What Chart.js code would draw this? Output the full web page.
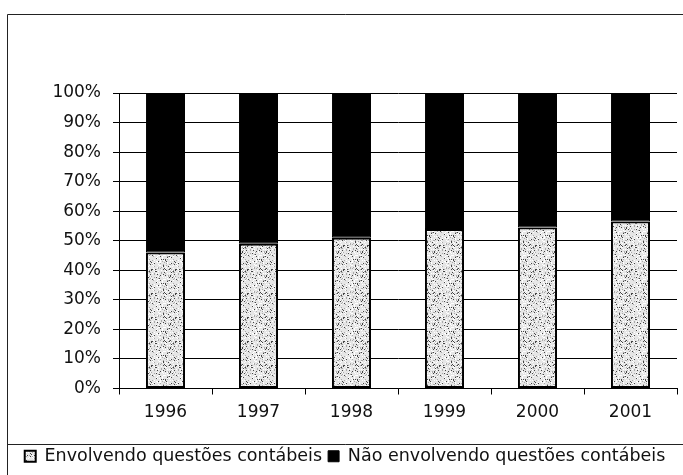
<!DOCTYPE html>
<html>
<head>
<meta charset="utf-8">
<script src="https://cdn.jsdelivr.net/npm/chart.js@4.4.0/dist/chart.umd.min.js"></script>
<style>
  html, body { margin: 0; padding: 0; background: #fff; }
  #wrap { width: 683px; height: 475px; }
</style>
</head>
<body>
<div id="wrap"><canvas id="barChart" width="683" height="475"></canvas></div>
<script>
// data
var anos = ["1996", "1997", "1998", "1999", "2000", "2001"];
var envolvendo = [46, 49, 51, 54, 54.5, 56.5];
var naoEnvolvendo = [54, 51, 49, 46, 45.5, 43.5];
var yTicks = [0, 10, 20, 30, 40, 50, 60, 70, 80, 90, 100];

// stippled fill like the scanned bars
function stipple() {
  var c = document.createElement('canvas');
  c.width = 24; c.height = 24;
  var g = c.getContext('2d');
  g.fillStyle = '#e6e6e6';
  g.fillRect(0, 0, 24, 24);
  var s = 11;
  for (var i = 0; i < 220; i++) {
    s = (s * 1103 + 12345) % 65521;
    var x = s % 24;
    s = (s * 1103 + 12345) % 65521;
    var y = s % 24;
    g.fillStyle = (i % 4 == 0) ? '#444' : (i % 4 == 1 ? '#aaa' : '#fff');
    g.fillRect(x, y, 1, 1);
  }
  return g.createPattern(c, 'repeat');
}
var dots = stipple();

// outer frame of the scanned figure
var frame = {
  id: 'frame',
  afterDraw: function (chart) {
    var ctx = chart.ctx;
    ctx.save();
    ctx.strokeStyle = '#222';
    ctx.lineWidth = 1;
    ctx.beginPath();
    ctx.moveTo(7.5, 475); ctx.lineTo(7.5, 14.5); ctx.lineTo(683, 14.5);
    ctx.moveTo(7.5, 444.5); ctx.lineTo(683, 444.5);
    ctx.stroke();
    ctx.restore();
  }
};

var fonte = 'DejaVu Sans';

var ctxB = document.getElementById("barChart").getContext('2d');
var myBarChart = new Chart(ctxB, {
  type: 'bar',
  data: {
    labels: anos,
    datasets: [{
      label: "Envolvendo questões contábeis",
      data: envolvendo,
      backgroundColor: dots,
      borderColor: '#000',
      borderWidth: 2,
      borderSkipped: false
    }, {
      label: "Não envolvendo questões contábeis",
      data: naoEnvolvendo,
      backgroundColor: '#000',
      borderColor: '#000',
      borderWidth: 1,
      borderSkipped: false
    }]
  },
  options: {
    responsive: false,
    animation: false,
    events: [],
    barPercentage: 0.42,
    categoryPercentage: 1,
    layout: { padding: { left: 13, right: 6, top: 93, bottom: 0 } },
    scales: {
      x: {
        stacked: true,
        grid: { offset: true, drawOnChartArea: false, color: '#000', tickLength: 6 },
        border: { color: '#000', width: 1 },
        ticks: { color: '#111', padding: 8, font: { family: fonte, size: 17 } },
        afterFit: function (s) { s.height = 53; }
      },
      y: {
        stacked: true,
        min: 0,
        max: 100,
        afterBuildTicks: function (s) { s.ticks = yTicks.map(function (v) { return { value: v }; }); },
        grid: { color: '#000', lineWidth: 1, tickLength: 6 },
        border: { color: '#000', width: 1 },
        ticks: {
          color: '#111', padding: 12,
          font: { family: fonte, size: 17 },
          callback: function (v) { return v + '%'; }
        },
        afterFit: function (s) { s.width = 106; }
      }
    },
    plugins: {
      tooltip: { enabled: false },
      legend: {
        position: 'bottom',
        labels: {
          color: '#111',
          boxWidth: 11,
          boxHeight: 11,
          padding: 6,
          font: { family: fonte, size: 17.5 }
        }
      }
    }
  },
  plugins: [frame]
});
</script>
</body>
</html>
